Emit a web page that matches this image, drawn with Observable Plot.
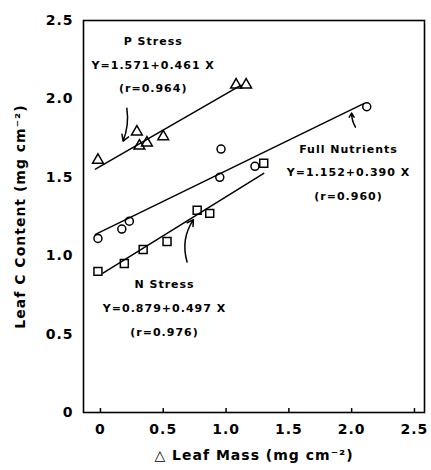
<!DOCTYPE html>
<html><head><meta charset="utf-8">
<script src="https://cdn.jsdelivr.net/npm/d3@7"></script>
<script src="https://cdn.jsdelivr.net/npm/@observablehq/plot@0.6"></script>
<style>
body{margin:0;background:#fff;}
svg{font-family:"DejaVu Sans",sans-serif;font-weight:bold;}
</style></head>
<body><div id="chart"></div>
<script>
// P Stress (triangles)
const pX = [-0.02, 0.29, 0.31, 0.37, 0.50, 1.08, 1.16];
const pY = [1.61, 1.79, 1.70, 1.72, 1.76, 2.09, 2.09];
// Full Nutrients (circles)
const fX = [-0.02, 0.17, 0.23, 0.95, 0.96, 1.23, 2.12];
const fY = [1.11, 1.17, 1.22, 1.50, 1.68, 1.57, 1.95];
// N Stress (squares)
const nX = [-0.02, 0.19, 0.34, 0.53, 0.77, 0.87, 1.30];
const nY = [0.90, 0.95, 1.04, 1.09, 1.29, 1.27, 1.59];

// regression fits
const series = ["P Stress", "Full Nutrients", "N Stress"];
const intercepts = [1.571, 1.152, 0.879];
const slopes = [0.461, 0.390, 0.497];
const rValues = ["0.964", "0.960", "0.976"];
const fitFrom = [-0.04, -0.04, 0.02];
const fitTo = [1.12, 2.10, 1.30];

// annotation anchors (data units)
const labelX = [0.42, 1.975, 0.51];
const labelY = [2.24, 1.556, 0.689];
const arrowX1 = [0.21, 2.03, 0.69];
const arrowY1 = [1.94, 1.82, 0.96];
const arrowX2 = [0.18, 2.00, 0.74];
const arrowY2 = [1.73, 1.91, 1.23];
const arrowBend = [15, 15, 25];

const ticks = [0, 0.5, 1.0, 1.5, 2.0, 2.5];
const tickLabels = ["0", "0.5", "1.0", "1.5", "2.0", "2.5"];

const pts = (xs, ys) => xs.map((x, i) => ({x, y: ys[i]}));
const fitLines = series.map((s, i) => [
  {s, x: fitFrom[i], y: intercepts[i] + slopes[i] * fitFrom[i]},
  {s, x: fitTo[i], y: intercepts[i] + slopes[i] * fitTo[i]}
]).flat();
const labels = series.map((s, i) => ({
  x: labelX[i], y: labelY[i],
  text: `${s}\nY=${intercepts[i].toFixed(3)}+${slopes[i].toFixed(3)} X\n(r=${rValues[i]})`
}));
const arrows = series.map((s, i) => ({x1: arrowX1[i], y1: arrowY1[i], x2: arrowX2[i], y2: arrowY2[i], bend: arrowBend[i]}));
const fmt = d => tickLabels[ticks.indexOf(d)];

const chart = Plot.plot({
  width: 431, height: 470,
  marginLeft: 83, marginRight: 7, marginTop: 20, marginBottom: 58,
  x: {domain: [-0.135, 2.58]},
  y: {domain: [0, 2.5]},
  style: {fontFamily: "DejaVu Sans", fontWeight: "bold", background: "#fff"},
  marks: [
    Plot.frame({stroke: "black", strokeWidth: 1.6}),
    Plot.axisY({ticks, tickFormat: fmt, tickSize: 0, tickPadding: 10, fontSize: 14, fontWeight: "bold",
      label: "Leaf C Content (mg cm⁻²)", labelAnchor: "center", labelArrow: "none", labelOffset: 68}),
    Plot.axisX({ticks, tickFormat: fmt, tickSize: 0, tickPadding: 12, fontSize: 14, fontWeight: "bold",
      label: "△ Leaf Mass (mg cm⁻²)", labelAnchor: "center", labelArrow: "none", labelOffset: 47}),
    Plot.ruleX(ticks, {x: d => d, y1: 0, y2: 0.025, stroke: "black", strokeWidth: 1.5}),
    Plot.line(fitLines, {x: "x", y: "y", z: "s", stroke: "black", strokeWidth: 1.5}),
    Plot.dot(pts(pX, pY), {x: "x", y: "y", symbol: "triangle", r: 4, stroke: "black", strokeWidth: 1.5, fill: "none"}),
    Plot.dot(pts(fX, fY), {x: "x", y: "y", symbol: "circle", r: 4, stroke: "black", strokeWidth: 1.5, fill: "none"}),
    Plot.dot(pts(nX, nY), {x: "x", y: "y", symbol: "square", r: 4.5, stroke: "black", strokeWidth: 1.5, fill: "none"}),
    ...arrows.map(a => Plot.arrow([a], {x1: "x1", y1: "y1", x2: "x2", y2: "y2", bend: a.bend, stroke: "black", strokeWidth: 1.5, headLength: 7})),
    Plot.text(labels, {x: "x", y: "y", text: "text", fontSize: 11, fontWeight: "bold", lineHeight: 2.14, fill: "black"})
  ]
});
chart.querySelectorAll("text").forEach(t => t.style.letterSpacing = "1px");
chart.querySelectorAll("g[aria-label='y-axis label'] text, g[aria-label='x-axis label'] text").forEach(t => t.style.fontSize = "14px");
document.getElementById("chart").append(chart);
</script></body></html>
